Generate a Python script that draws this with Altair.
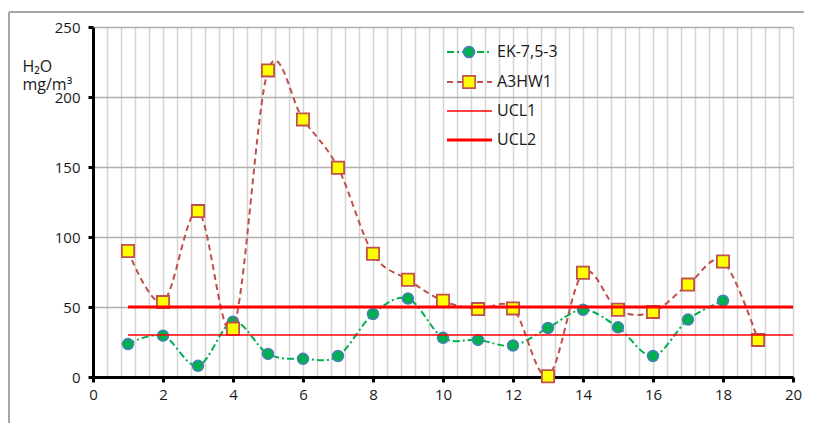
import altair as alt
import pandas as pd

# ---- data ----
x_ek = list(range(1, 19))
ek_vals = [23.5, 29.5, 8, 39.5, 16.5, 13, 15, 45, 56, 28, 26.5, 22.5, 35, 48, 35.5, 15, 41, 54.5]
x_a3 = list(range(1, 20))
a3_vals = [90, 53.5, 118.5, 34.5, 219, 184, 149.5, 88, 69.5, 54.5, 48.5, 49, 0.5, 74.5, 48, 46.5, 66, 82.5, 26.5]
ucl_x = [1, 20]
ucl1_val = 30
ucl2_val = 50
series_names = ["EK-7,5-3", "A3HW1", "UCL1", "UCL2"]
x_grid = [round(i * 0.4, 1) for i in range(0, 51)]
y_ticks = [0, 50, 100, 150, 200, 250]

FONT = "Open Sans"
W, H = 700, 350
PL, PT, PR, PB = 85, 19, 11, 46

df_ek = pd.DataFrame({"x": x_ek, "y": ek_vals})
df_a3 = pd.DataFrame({"x": x_a3, "y": a3_vals})
df_u1 = pd.DataFrame({"x": ucl_x, "y": [ucl1_val] * 2})
df_u2 = pd.DataFrame({"x": ucl_x, "y": [ucl2_val] * 2})

x_enc = alt.X(
    "x:Q",
    scale=alt.Scale(domain=[0, 20], nice=False, zero=False),
    axis=alt.Axis(
        values=x_grid,
        labelExpr="datum.value % 2 === 0 ? format(datum.value, 'd') : ''",
        tickOpacity={"condition": {"test": "datum.value % 2 === 0", "value": 1}, "value": 0},
        grid=True, gridColor="#d4d4d4", gridWidth=1.5,
        domainColor="black", domainWidth=3,
        tickColor="black", tickWidth=3, tickSize=5,
        labelFont=FONT, labelFontSize=15, labelColor="#1a1a1a", labelPadding=5,
        labelFlush=False, labelOverlap=False, title=None,
    ),
)
y_enc = alt.Y(
    "y:Q",
    scale=alt.Scale(domain=[0, 250], nice=False),
    axis=alt.Axis(
        values=y_ticks,
        grid=True, gridColor="#b0b0b0", gridWidth=1.5,
        domainColor="black", domainWidth=3,
        tickColor="black", tickWidth=3, tickSize=5,
        labelFont=FONT, labelFontSize=15, labelColor="#1a1a1a", labelPadding=8,
        title=["H\u2082O", "mg/m\u00b3"], titleAngle=0, titleAlign="left",
        titleBaseline="alphabetic", titleX=-71, titleY=44,
        titleFont=FONT, titleFontSize=16, titleFontWeight="normal",
        titleColor="#1a1a1a", titleLineHeight=18,
    ),
)

GREEN = "#00B050"
BLUE = "#4A7EBB"
DRED = "#C0504D"
YELLOW = "#FFFF00"
RED = "#FF0000"
INTERP = "cardinal"

ek_line = alt.Chart(df_ek).mark_line(
    color=GREEN, strokeWidth=2, strokeDash=[7, 3, 2, 3], interpolate=INTERP
).encode(x=x_enc, y=y_enc)
ek_pts = alt.Chart(df_ek).mark_point(
    shape="circle", filled=True, fill=GREEN, stroke=BLUE, strokeWidth=1.5, size=120, opacity=1
).encode(x=x_enc, y=y_enc)
a3_line = alt.Chart(df_a3).mark_line(
    color=DRED, strokeWidth=2, strokeDash=[6, 4], interpolate=INTERP
).encode(x=x_enc, y=y_enc)
a3_pts = alt.Chart(df_a3).mark_point(
    shape="square", filled=True, fill=YELLOW, stroke=DRED, strokeWidth=1.8, size=150, opacity=1
).encode(x=x_enc, y=y_enc)
u1 = alt.Chart(df_u1).mark_line(color=RED, strokeWidth=1.5).encode(x=x_enc, y=y_enc)
u2 = alt.Chart(df_u2).mark_line(color=RED, strokeWidth=3).encode(x=x_enc, y=y_enc)

# ---- legend (inside plot, top right) ----
leg_rows_y = [25, 55, 84, 113]
lx1, lx2, lmx, ltx = 354, 399, 376, 404
leg_styles = [
    dict(color=GREEN, width=2, dash=[7, 3, 2, 3], marker="circle", fill=GREEN, stroke=BLUE, size=120),
    dict(color=DRED, width=2, dash=[6, 4], marker="square", fill=YELLOW, stroke=DRED, size=150),
    dict(color=RED, width=1.5, dash=None, marker=None),
    dict(color=RED, width=3, dash=None, marker=None),
]
legend_layers = []
for name, ly, st in zip(series_names, leg_rows_y, leg_styles):
    d = pd.DataFrame({"label": [name]})
    rule_kw = dict(color=st["color"], strokeWidth=st["width"])
    if st["dash"]:
        rule_kw["strokeDash"] = st["dash"]
    legend_layers.append(
        alt.Chart(d).mark_rule(**rule_kw).encode(
            x=alt.value(lx1), x2=alt.value(lx2), y=alt.value(ly)
        )
    )
    if st["marker"]:
        legend_layers.append(
            alt.Chart(d).mark_point(
                shape=st["marker"], filled=True, fill=st["fill"], stroke=st["stroke"],
                strokeWidth=1.6, size=st["size"], opacity=1,
            ).encode(x=alt.value(lmx), y=alt.value(ly))
        )
    legend_layers.append(
        alt.Chart(d).mark_text(
            align="left", baseline="middle", font=FONT, fontSize=16, color="#1a1a1a"
        ).encode(x=alt.value(ltx), y=alt.value(ly), text="label:N")
    )

# ---- outer chart frame (top and left edges visible) ----
frame_d = pd.DataFrame({"k": [0]})
frame_top = alt.Chart(frame_d).mark_rule(color="#a6a6a6", strokeWidth=2).encode(
    x=alt.value(-84), x2=alt.value(W + PR), y=alt.value(-15)
)
frame_left = alt.Chart(frame_d).mark_rule(color="#a6a6a6", strokeWidth=2).encode(
    x=alt.value(-84), y=alt.value(-15), y2=alt.value(H + PB)
)

chart = alt.layer(
    ek_line, ek_pts, a3_line, a3_pts, u1, u2, *legend_layers, frame_top, frame_left
).properties(
    width=W, height=H,
    autosize=alt.AutoSizeParams(type="none"),
    padding={"left": PL, "top": PT, "right": PR, "bottom": PB},
    background="white",
).configure_view(stroke=None)

chart.save("out.html", embed_options={"renderer": "svg", "actions": False})
